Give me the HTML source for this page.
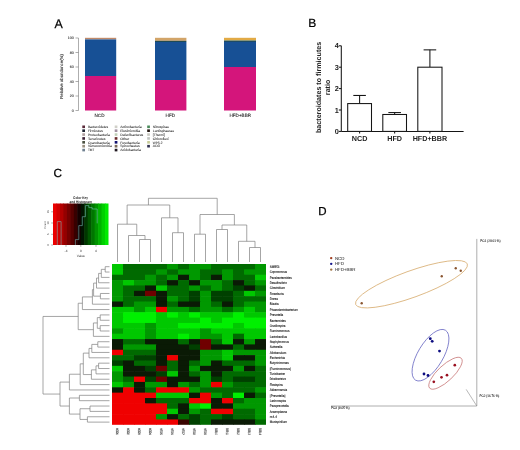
<!DOCTYPE html>
<html><head><meta charset="utf-8"><title>Figure</title>
<style>
html,body{margin:0;padding:0;background:#fff;}
body{width:520px;height:450px;overflow:hidden;font-family:"Liberation Sans", sans-serif;}
svg{display:block;will-change:transform;text-rendering:geometricPrecision;}
</style></head>
<body>
<svg width="520" height="450" viewBox="0 0 520 450" font-family='"Liberation Sans", sans-serif'>
<rect width="520" height="450" fill="#fff"/>
<text x="54.6" y="27.6" font-size="12.4" stroke="#000" stroke-width="0.25">A</text>
<line x1="78.5" y1="38.0" x2="78.5" y2="110.5" stroke="#777" stroke-width="0.6"/>
<line x1="75.5" y1="110.50" x2="78.5" y2="110.50" stroke="#777" stroke-width="0.6"/>
<text x="73.7" y="111.80" font-size="3.6" text-anchor="end" fill="#333" stroke="#333" stroke-width="0.1">0</text>
<line x1="75.5" y1="96.00" x2="78.5" y2="96.00" stroke="#777" stroke-width="0.6"/>
<text x="73.7" y="97.30" font-size="3.6" text-anchor="end" fill="#333" stroke="#333" stroke-width="0.1">20</text>
<line x1="75.5" y1="81.50" x2="78.5" y2="81.50" stroke="#777" stroke-width="0.6"/>
<text x="73.7" y="82.80" font-size="3.6" text-anchor="end" fill="#333" stroke="#333" stroke-width="0.1">40</text>
<line x1="75.5" y1="67.00" x2="78.5" y2="67.00" stroke="#777" stroke-width="0.6"/>
<text x="73.7" y="68.30" font-size="3.6" text-anchor="end" fill="#333" stroke="#333" stroke-width="0.1">60</text>
<line x1="75.5" y1="52.50" x2="78.5" y2="52.50" stroke="#777" stroke-width="0.6"/>
<text x="73.7" y="53.80" font-size="3.6" text-anchor="end" fill="#333" stroke="#333" stroke-width="0.1">80</text>
<line x1="75.5" y1="38.00" x2="78.5" y2="38.00" stroke="#777" stroke-width="0.6"/>
<text x="73.7" y="39.30" font-size="3.6" text-anchor="end" fill="#333" stroke="#333" stroke-width="0.1">100</text>
<text transform="translate(62.8,76.5) rotate(-90)" font-size="4.3" text-anchor="middle" fill="#333" stroke="#333" stroke-width="0.1">Relative abundance(%)</text>
<rect x="85" y="37.8" width="31.20" height="1.60" fill="#c08a6a"/>
<rect x="85" y="39.4" width="31.20" height="36.60" fill="#175095"/>
<rect x="85" y="76.0" width="31.20" height="34.50" fill="#d4157b"/>
<rect x="155" y="37.8" width="31.40" height="3.00" fill="#d2a468"/>
<rect x="155" y="40.8" width="31.40" height="1.20" fill="#1f4a55"/>
<rect x="155" y="42.0" width="31.40" height="38.00" fill="#175095"/>
<rect x="155" y="80.0" width="31.40" height="30.50" fill="#d4157b"/>
<rect x="224" y="37.8" width="32.00" height="2.40" fill="#e2aa45"/>
<rect x="224" y="40.2" width="32.00" height="0.80" fill="#6f8060"/>
<rect x="224" y="41.0" width="32.00" height="1.00" fill="#1e4b66"/>
<rect x="224" y="42.0" width="32.00" height="25.00" fill="#175095"/>
<rect x="224" y="67.0" width="32.00" height="43.50" fill="#d4157b"/>
<text x="99.5" y="117.4" font-size="4.6" text-anchor="middle" fill="#222" stroke="#222" stroke-width="0.08">NCD</text>
<text x="170.3" y="117.4" font-size="4.6" text-anchor="middle" fill="#222" stroke="#222" stroke-width="0.08">HFD</text>
<text x="240.3" y="117.4" font-size="4.6" text-anchor="middle" fill="#222" stroke="#222" stroke-width="0.08">HFD+BBR</text>
<rect x="82.3" y="125.50" width="2.7" height="2.6" fill="#5a2a3a"/>
<text x="87.9" y="128.00" font-size="3.3" textLength="20.2" lengthAdjust="spacingAndGlyphs" fill="#333" stroke="#333" stroke-width="0.06">Bacteroidetes</text>
<rect x="82.3" y="129.38" width="2.7" height="2.6" fill="#1c2230"/>
<text x="87.9" y="131.88" font-size="3.3" textLength="15.1" lengthAdjust="spacingAndGlyphs" fill="#333" stroke="#333" stroke-width="0.06">Firmicutes</text>
<rect x="82.3" y="133.26" width="2.7" height="2.6" fill="#b0a0a0"/>
<text x="87.9" y="135.76" font-size="3.3" textLength="22.1" lengthAdjust="spacingAndGlyphs" fill="#333" stroke="#333" stroke-width="0.06">Proteobacteria</text>
<rect x="82.3" y="137.14" width="2.7" height="2.6" fill="#3a2035"/>
<text x="87.9" y="139.64" font-size="3.3" textLength="17.5" lengthAdjust="spacingAndGlyphs" fill="#333" stroke="#333" stroke-width="0.06">Tenericutes</text>
<rect x="82.3" y="141.02" width="2.7" height="2.6" fill="#4a5040"/>
<text x="87.9" y="143.52" font-size="3.3" textLength="21.7" lengthAdjust="spacingAndGlyphs" fill="#333" stroke="#333" stroke-width="0.06">Cyanobacteria</text>
<rect x="82.3" y="144.90" width="2.7" height="2.6" fill="#9a9080"/>
<text x="87.9" y="147.40" font-size="3.3" textLength="24.0" lengthAdjust="spacingAndGlyphs" fill="#333" stroke="#333" stroke-width="0.06">Verrucomicrobia</text>
<rect x="82.3" y="148.78" width="2.7" height="2.6" fill="#708090"/>
<text x="87.9" y="151.28" font-size="3.3" textLength="6.3" lengthAdjust="spacingAndGlyphs" fill="#333" stroke="#333" stroke-width="0.06">TM7</text>
<rect x="114.7" y="125.50" width="2.7" height="2.6" fill="#d0d0c8"/>
<text x="120.3" y="128.00" font-size="3.3" textLength="21.3" lengthAdjust="spacingAndGlyphs" fill="#333" stroke="#333" stroke-width="0.06">Actinobacteria</text>
<rect x="114.7" y="129.38" width="2.7" height="2.6" fill="#a090a0"/>
<text x="120.3" y="131.88" font-size="3.3" textLength="19.8" lengthAdjust="spacingAndGlyphs" fill="#333" stroke="#333" stroke-width="0.06">Elusimicrobia</text>
<rect x="114.7" y="133.26" width="2.7" height="2.6" fill="#c0d0b8"/>
<text x="120.3" y="135.76" font-size="3.3" textLength="22.9" lengthAdjust="spacingAndGlyphs" fill="#333" stroke="#333" stroke-width="0.06">Deferribacteres</text>
<rect x="114.7" y="137.14" width="2.7" height="2.6" fill="#6a2a2a"/>
<text x="120.3" y="139.64" font-size="3.3" textLength="9.0" lengthAdjust="spacingAndGlyphs" fill="#333" stroke="#333" stroke-width="0.06">Other</text>
<rect x="114.7" y="141.02" width="2.7" height="2.6" fill="#101070"/>
<text x="120.3" y="143.52" font-size="3.3" textLength="19.4" lengthAdjust="spacingAndGlyphs" fill="#333" stroke="#333" stroke-width="0.06">Fusobacteria</text>
<rect x="114.7" y="144.90" width="2.7" height="2.6" fill="#7a6a58"/>
<text x="120.3" y="147.40" font-size="3.3" textLength="19.4" lengthAdjust="spacingAndGlyphs" fill="#333" stroke="#333" stroke-width="0.06">Spirochaetes</text>
<rect x="114.7" y="148.78" width="2.7" height="2.6" fill="#201820"/>
<text x="120.3" y="151.28" font-size="3.3" textLength="20.5" lengthAdjust="spacingAndGlyphs" fill="#333" stroke="#333" stroke-width="0.06">Acidobacteria</text>
<rect x="147.2" y="125.50" width="2.7" height="2.6" fill="#4a8a5a"/>
<text x="152.8" y="128.00" font-size="3.3" textLength="16.2" lengthAdjust="spacingAndGlyphs" fill="#333" stroke="#333" stroke-width="0.06">Nitrospirae</text>
<rect x="147.2" y="129.38" width="2.7" height="2.6" fill="#201510"/>
<text x="152.8" y="131.88" font-size="3.3" textLength="21.2" lengthAdjust="spacingAndGlyphs" fill="#333" stroke="#333" stroke-width="0.06">Lentisphaerae</text>
<rect x="147.2" y="133.26" width="2.7" height="2.6" fill="#c8c8c0"/>
<text x="152.8" y="135.76" font-size="3.3" textLength="12.0" lengthAdjust="spacingAndGlyphs" fill="#333" stroke="#333" stroke-width="0.06">[Thermi]</text>
<rect x="147.2" y="137.14" width="2.7" height="2.6" fill="#c0c4c0"/>
<text x="152.8" y="139.64" font-size="3.3" textLength="15.8" lengthAdjust="spacingAndGlyphs" fill="#333" stroke="#333" stroke-width="0.06">Chloroflexi</text>
<rect x="147.2" y="141.02" width="2.7" height="2.6" fill="#c8cc98"/>
<text x="152.8" y="143.52" font-size="3.3" textLength="9.7" lengthAdjust="spacingAndGlyphs" fill="#333" stroke="#333" stroke-width="0.06">WPS-2</text>
<rect x="147.2" y="144.90" width="2.7" height="2.6" fill="#303050"/>
<text x="152.8" y="147.40" font-size="3.3" textLength="7.0" lengthAdjust="spacingAndGlyphs" fill="#333" stroke="#333" stroke-width="0.06">AD3</text>
<text x="308.2" y="27.3" font-size="12" stroke="#000" stroke-width="0.2">B</text>
<line x1="341.3" y1="45.80" x2="341.3" y2="131.4" stroke="#151515" stroke-width="1.05"/>
<line x1="341.3" y1="131.4" x2="463.6" y2="131.4" stroke="#151515" stroke-width="1.05"/>
<line x1="338.8" y1="131.40" x2="341.3" y2="131.40" stroke="#151515" stroke-width="1.05"/>
<text x="338.7" y="134.00" font-size="7.3" text-anchor="end" font-weight="bold" fill="#222">0</text>
<line x1="338.8" y1="110.00" x2="341.3" y2="110.00" stroke="#151515" stroke-width="1.05"/>
<text x="338.7" y="112.60" font-size="7.3" text-anchor="end" font-weight="bold" fill="#222">1</text>
<line x1="338.8" y1="88.60" x2="341.3" y2="88.60" stroke="#151515" stroke-width="1.05"/>
<text x="338.7" y="91.20" font-size="7.3" text-anchor="end" font-weight="bold" fill="#222">2</text>
<line x1="338.8" y1="67.20" x2="341.3" y2="67.20" stroke="#151515" stroke-width="1.05"/>
<text x="338.7" y="69.80" font-size="7.3" text-anchor="end" font-weight="bold" fill="#222">3</text>
<line x1="338.8" y1="45.80" x2="341.3" y2="45.80" stroke="#151515" stroke-width="1.05"/>
<text x="338.7" y="48.40" font-size="7.3" text-anchor="end" font-weight="bold" fill="#222">4</text>
<line x1="359.60" y1="103.58" x2="359.60" y2="95.45" stroke="#151515" stroke-width="1.05"/>
<line x1="353.30" y1="95.45" x2="365.90" y2="95.45" stroke="#151515" stroke-width="1.05"/>
<rect x="347.7" y="103.58" width="23.80" height="27.82" fill="#fff" stroke="#151515" stroke-width="1.05"/>
<line x1="359.60" y1="131.4" x2="359.60" y2="133.6" stroke="#151515" stroke-width="1.05"/>
<text x="359.60" y="140.70" font-size="7.2" text-anchor="middle" font-weight="bold" fill="#222">NCD</text>
<line x1="394.65" y1="114.49" x2="394.65" y2="112.57" stroke="#151515" stroke-width="1.05"/>
<line x1="388.35" y1="112.57" x2="400.95" y2="112.57" stroke="#151515" stroke-width="1.05"/>
<rect x="382.8" y="114.49" width="23.70" height="16.91" fill="#fff" stroke="#151515" stroke-width="1.05"/>
<line x1="394.65" y1="131.4" x2="394.65" y2="133.6" stroke="#151515" stroke-width="1.05"/>
<text x="394.65" y="140.70" font-size="7.2" text-anchor="middle" font-weight="bold" fill="#222">HFD</text>
<line x1="429.90" y1="67.20" x2="429.90" y2="49.87" stroke="#151515" stroke-width="1.05"/>
<line x1="423.60" y1="49.87" x2="436.20" y2="49.87" stroke="#151515" stroke-width="1.05"/>
<rect x="417.8" y="67.20" width="24.20" height="64.20" fill="#fff" stroke="#151515" stroke-width="1.05"/>
<line x1="429.90" y1="131.4" x2="429.90" y2="133.6" stroke="#151515" stroke-width="1.05"/>
<text x="429.90" y="140.70" font-size="7.2" text-anchor="middle" font-weight="bold" fill="#222">HFD+BBR</text>
<text transform="translate(321.2,87.4) rotate(-90)" font-size="7.15" text-anchor="middle" font-weight="bold" fill="#222">bacteroidates to firmicutes</text>
<text transform="translate(330.2,87.4) rotate(-90)" font-size="7.15" text-anchor="middle" font-weight="bold" fill="#222">ratio</text>
<text x="53.5" y="176.9" font-size="11.8" stroke="#000" stroke-width="0.25">C</text>
<rect x="112.00" y="264.00" width="11.60" height="5.96" fill="#00c800"/>
<rect x="123.00" y="264.00" width="11.60" height="5.96" fill="#006a00"/>
<rect x="134.00" y="264.00" width="11.60" height="5.96" fill="#006a00"/>
<rect x="145.00" y="264.00" width="11.60" height="5.96" fill="#006a00"/>
<rect x="156.00" y="264.00" width="11.60" height="5.96" fill="#006a00"/>
<rect x="167.00" y="264.00" width="11.60" height="5.96" fill="#009800"/>
<rect x="178.00" y="264.00" width="11.60" height="5.96" fill="#006a00"/>
<rect x="189.00" y="264.00" width="11.60" height="5.96" fill="#009800"/>
<rect x="200.00" y="264.00" width="11.60" height="5.96" fill="#009800"/>
<rect x="211.00" y="264.00" width="11.60" height="5.96" fill="#006a00"/>
<rect x="222.00" y="264.00" width="11.60" height="5.96" fill="#006a00"/>
<rect x="233.00" y="264.00" width="11.60" height="5.96" fill="#006a00"/>
<rect x="244.00" y="264.00" width="11.60" height="5.96" fill="#006a00"/>
<rect x="255.00" y="264.00" width="11.00" height="5.96" fill="#009800"/>
<rect x="112.00" y="269.36" width="11.60" height="5.96" fill="#00c800"/>
<rect x="123.00" y="269.36" width="11.60" height="5.96" fill="#006a00"/>
<rect x="134.00" y="269.36" width="11.60" height="5.96" fill="#006a00"/>
<rect x="145.00" y="269.36" width="11.60" height="5.96" fill="#006a00"/>
<rect x="156.00" y="269.36" width="11.60" height="5.96" fill="#009800"/>
<rect x="167.00" y="269.36" width="11.60" height="5.96" fill="#006a00"/>
<rect x="178.00" y="269.36" width="11.60" height="5.96" fill="#009800"/>
<rect x="189.00" y="269.36" width="11.60" height="5.96" fill="#009800"/>
<rect x="200.00" y="269.36" width="11.60" height="5.96" fill="#006a00"/>
<rect x="211.00" y="269.36" width="11.60" height="5.96" fill="#006a00"/>
<rect x="222.00" y="269.36" width="11.60" height="5.96" fill="#009800"/>
<rect x="233.00" y="269.36" width="11.60" height="5.96" fill="#006a00"/>
<rect x="244.00" y="269.36" width="11.60" height="5.96" fill="#009800"/>
<rect x="255.00" y="269.36" width="11.00" height="5.96" fill="#009800"/>
<rect x="112.00" y="274.72" width="11.60" height="5.96" fill="#006a00"/>
<rect x="123.00" y="274.72" width="11.60" height="5.96" fill="#006a00"/>
<rect x="134.00" y="274.72" width="11.60" height="5.96" fill="#006a00"/>
<rect x="145.00" y="274.72" width="11.60" height="5.96" fill="#009800"/>
<rect x="156.00" y="274.72" width="11.60" height="5.96" fill="#006a00"/>
<rect x="167.00" y="274.72" width="11.60" height="5.96" fill="#009800"/>
<rect x="178.00" y="274.72" width="11.60" height="5.96" fill="#0a1a05"/>
<rect x="189.00" y="274.72" width="11.60" height="5.96" fill="#009800"/>
<rect x="200.00" y="274.72" width="11.60" height="5.96" fill="#006a00"/>
<rect x="211.00" y="274.72" width="11.60" height="5.96" fill="#0a1a05"/>
<rect x="222.00" y="274.72" width="11.60" height="5.96" fill="#009800"/>
<rect x="233.00" y="274.72" width="11.60" height="5.96" fill="#006a00"/>
<rect x="244.00" y="274.72" width="11.60" height="5.96" fill="#006a00"/>
<rect x="255.00" y="274.72" width="11.00" height="5.96" fill="#00c800"/>
<rect x="112.00" y="280.08" width="11.60" height="5.96" fill="#009800"/>
<rect x="123.00" y="280.08" width="11.60" height="5.96" fill="#00c800"/>
<rect x="134.00" y="280.08" width="11.60" height="5.96" fill="#009800"/>
<rect x="145.00" y="280.08" width="11.60" height="5.96" fill="#009800"/>
<rect x="156.00" y="280.08" width="11.60" height="5.96" fill="#006a00"/>
<rect x="167.00" y="280.08" width="11.60" height="5.96" fill="#0a1a05"/>
<rect x="178.00" y="280.08" width="11.60" height="5.96" fill="#006a00"/>
<rect x="189.00" y="280.08" width="11.60" height="5.96" fill="#0a1a05"/>
<rect x="200.00" y="280.08" width="11.60" height="5.96" fill="#009800"/>
<rect x="211.00" y="280.08" width="11.60" height="5.96" fill="#009800"/>
<rect x="222.00" y="280.08" width="11.60" height="5.96" fill="#006a00"/>
<rect x="233.00" y="280.08" width="11.60" height="5.96" fill="#0a1a05"/>
<rect x="244.00" y="280.08" width="11.60" height="5.96" fill="#006a00"/>
<rect x="255.00" y="280.08" width="11.00" height="5.96" fill="#009800"/>
<rect x="112.00" y="285.44" width="11.60" height="5.96" fill="#009800"/>
<rect x="123.00" y="285.44" width="11.60" height="5.96" fill="#006a00"/>
<rect x="134.00" y="285.44" width="11.60" height="5.96" fill="#006a00"/>
<rect x="145.00" y="285.44" width="11.60" height="5.96" fill="#0a1a05"/>
<rect x="156.00" y="285.44" width="11.60" height="5.96" fill="#00c800"/>
<rect x="167.00" y="285.44" width="11.60" height="5.96" fill="#006a00"/>
<rect x="178.00" y="285.44" width="11.60" height="5.96" fill="#006a00"/>
<rect x="189.00" y="285.44" width="11.60" height="5.96" fill="#009800"/>
<rect x="200.00" y="285.44" width="11.60" height="5.96" fill="#006a00"/>
<rect x="211.00" y="285.44" width="11.60" height="5.96" fill="#009800"/>
<rect x="222.00" y="285.44" width="11.60" height="5.96" fill="#006a00"/>
<rect x="233.00" y="285.44" width="11.60" height="5.96" fill="#004000"/>
<rect x="244.00" y="285.44" width="11.60" height="5.96" fill="#0a1a05"/>
<rect x="255.00" y="285.44" width="11.00" height="5.96" fill="#006a00"/>
<rect x="112.00" y="290.80" width="11.60" height="5.96" fill="#009800"/>
<rect x="123.00" y="290.80" width="11.60" height="5.96" fill="#006a00"/>
<rect x="134.00" y="290.80" width="11.60" height="5.96" fill="#0a1a05"/>
<rect x="145.00" y="290.80" width="11.60" height="5.96" fill="#700000"/>
<rect x="156.00" y="290.80" width="11.60" height="5.96" fill="#0a1a05"/>
<rect x="167.00" y="290.80" width="11.60" height="5.96" fill="#006a00"/>
<rect x="178.00" y="290.80" width="11.60" height="5.96" fill="#006a00"/>
<rect x="189.00" y="290.80" width="11.60" height="5.96" fill="#004000"/>
<rect x="200.00" y="290.80" width="11.60" height="5.96" fill="#009800"/>
<rect x="211.00" y="290.80" width="11.60" height="5.96" fill="#004000"/>
<rect x="222.00" y="290.80" width="11.60" height="5.96" fill="#004000"/>
<rect x="233.00" y="290.80" width="11.60" height="5.96" fill="#006a00"/>
<rect x="244.00" y="290.80" width="11.60" height="5.96" fill="#00c800"/>
<rect x="255.00" y="290.80" width="11.00" height="5.96" fill="#009800"/>
<rect x="112.00" y="296.16" width="11.60" height="5.96" fill="#009800"/>
<rect x="123.00" y="296.16" width="11.60" height="5.96" fill="#006a00"/>
<rect x="134.00" y="296.16" width="11.60" height="5.96" fill="#006a00"/>
<rect x="145.00" y="296.16" width="11.60" height="5.96" fill="#006a00"/>
<rect x="156.00" y="296.16" width="11.60" height="5.96" fill="#0a1a05"/>
<rect x="167.00" y="296.16" width="11.60" height="5.96" fill="#009800"/>
<rect x="178.00" y="296.16" width="11.60" height="5.96" fill="#006a00"/>
<rect x="189.00" y="296.16" width="11.60" height="5.96" fill="#004000"/>
<rect x="200.00" y="296.16" width="11.60" height="5.96" fill="#009800"/>
<rect x="211.00" y="296.16" width="11.60" height="5.96" fill="#004000"/>
<rect x="222.00" y="296.16" width="11.60" height="5.96" fill="#004000"/>
<rect x="233.00" y="296.16" width="11.60" height="5.96" fill="#006a00"/>
<rect x="244.00" y="296.16" width="11.60" height="5.96" fill="#006a00"/>
<rect x="255.00" y="296.16" width="11.00" height="5.96" fill="#006a00"/>
<rect x="112.00" y="301.52" width="11.60" height="5.96" fill="#0a1a05"/>
<rect x="123.00" y="301.52" width="11.60" height="5.96" fill="#006a00"/>
<rect x="134.00" y="301.52" width="11.60" height="5.96" fill="#009800"/>
<rect x="145.00" y="301.52" width="11.60" height="5.96" fill="#009800"/>
<rect x="156.00" y="301.52" width="11.60" height="5.96" fill="#0a1a05"/>
<rect x="167.00" y="301.52" width="11.60" height="5.96" fill="#006a00"/>
<rect x="178.00" y="301.52" width="11.60" height="5.96" fill="#0a1a05"/>
<rect x="189.00" y="301.52" width="11.60" height="5.96" fill="#0a1a05"/>
<rect x="200.00" y="301.52" width="11.60" height="5.96" fill="#009800"/>
<rect x="211.00" y="301.52" width="11.60" height="5.96" fill="#006a00"/>
<rect x="222.00" y="301.52" width="11.60" height="5.96" fill="#0a1a05"/>
<rect x="233.00" y="301.52" width="11.60" height="5.96" fill="#006a00"/>
<rect x="244.00" y="301.52" width="11.60" height="5.96" fill="#009800"/>
<rect x="255.00" y="301.52" width="11.00" height="5.96" fill="#009800"/>
<rect x="112.00" y="306.88" width="11.60" height="5.96" fill="#00c800"/>
<rect x="123.00" y="306.88" width="11.60" height="5.96" fill="#00c800"/>
<rect x="134.00" y="306.88" width="11.60" height="5.96" fill="#009800"/>
<rect x="145.00" y="306.88" width="11.60" height="5.96" fill="#00c800"/>
<rect x="156.00" y="306.88" width="11.60" height="5.96" fill="#f00000"/>
<rect x="167.00" y="306.88" width="11.60" height="5.96" fill="#009800"/>
<rect x="178.00" y="306.88" width="11.60" height="5.96" fill="#009800"/>
<rect x="189.00" y="306.88" width="11.60" height="5.96" fill="#006a00"/>
<rect x="200.00" y="306.88" width="11.60" height="5.96" fill="#009800"/>
<rect x="211.00" y="306.88" width="11.60" height="5.96" fill="#009800"/>
<rect x="222.00" y="306.88" width="11.60" height="5.96" fill="#006a00"/>
<rect x="233.00" y="306.88" width="11.60" height="5.96" fill="#009800"/>
<rect x="244.00" y="306.88" width="11.60" height="5.96" fill="#00c800"/>
<rect x="255.00" y="306.88" width="11.00" height="5.96" fill="#009800"/>
<rect x="112.00" y="312.24" width="11.60" height="5.96" fill="#00c800"/>
<rect x="123.00" y="312.24" width="11.60" height="5.96" fill="#00f000"/>
<rect x="134.00" y="312.24" width="11.60" height="5.96" fill="#00f000"/>
<rect x="145.00" y="312.24" width="11.60" height="5.96" fill="#00f000"/>
<rect x="156.00" y="312.24" width="11.60" height="5.96" fill="#00c800"/>
<rect x="167.00" y="312.24" width="11.60" height="5.96" fill="#00f000"/>
<rect x="178.00" y="312.24" width="11.60" height="5.96" fill="#00c800"/>
<rect x="189.00" y="312.24" width="11.60" height="5.96" fill="#00f000"/>
<rect x="200.00" y="312.24" width="11.60" height="5.96" fill="#00c800"/>
<rect x="211.00" y="312.24" width="11.60" height="5.96" fill="#00c800"/>
<rect x="222.00" y="312.24" width="11.60" height="5.96" fill="#00c800"/>
<rect x="233.00" y="312.24" width="11.60" height="5.96" fill="#00f000"/>
<rect x="244.00" y="312.24" width="11.60" height="5.96" fill="#00c800"/>
<rect x="255.00" y="312.24" width="11.00" height="5.96" fill="#00c800"/>
<rect x="112.00" y="317.60" width="11.60" height="5.96" fill="#00c800"/>
<rect x="123.00" y="317.60" width="11.60" height="5.96" fill="#00f000"/>
<rect x="134.00" y="317.60" width="11.60" height="5.96" fill="#00f000"/>
<rect x="145.00" y="317.60" width="11.60" height="5.96" fill="#00f000"/>
<rect x="156.00" y="317.60" width="11.60" height="5.96" fill="#00c800"/>
<rect x="167.00" y="317.60" width="11.60" height="5.96" fill="#00c800"/>
<rect x="178.00" y="317.60" width="11.60" height="5.96" fill="#00c800"/>
<rect x="189.00" y="317.60" width="11.60" height="5.96" fill="#00c800"/>
<rect x="200.00" y="317.60" width="11.60" height="5.96" fill="#00f000"/>
<rect x="211.00" y="317.60" width="11.60" height="5.96" fill="#00c800"/>
<rect x="222.00" y="317.60" width="11.60" height="5.96" fill="#00f000"/>
<rect x="233.00" y="317.60" width="11.60" height="5.96" fill="#00f000"/>
<rect x="244.00" y="317.60" width="11.60" height="5.96" fill="#00f000"/>
<rect x="255.00" y="317.60" width="11.00" height="5.96" fill="#00f000"/>
<rect x="112.00" y="322.96" width="11.60" height="5.96" fill="#00c800"/>
<rect x="123.00" y="322.96" width="11.60" height="5.96" fill="#00c800"/>
<rect x="134.00" y="322.96" width="11.60" height="5.96" fill="#00c800"/>
<rect x="145.00" y="322.96" width="11.60" height="5.96" fill="#009800"/>
<rect x="156.00" y="322.96" width="11.60" height="5.96" fill="#00c800"/>
<rect x="167.00" y="322.96" width="11.60" height="5.96" fill="#00c800"/>
<rect x="178.00" y="322.96" width="11.60" height="5.96" fill="#00f000"/>
<rect x="189.00" y="322.96" width="11.60" height="5.96" fill="#00f000"/>
<rect x="200.00" y="322.96" width="11.60" height="5.96" fill="#00f000"/>
<rect x="211.00" y="322.96" width="11.60" height="5.96" fill="#00f000"/>
<rect x="222.00" y="322.96" width="11.60" height="5.96" fill="#00f000"/>
<rect x="233.00" y="322.96" width="11.60" height="5.96" fill="#00c800"/>
<rect x="244.00" y="322.96" width="11.60" height="5.96" fill="#00f000"/>
<rect x="255.00" y="322.96" width="11.00" height="5.96" fill="#00f000"/>
<rect x="112.00" y="328.32" width="11.60" height="5.96" fill="#009800"/>
<rect x="123.00" y="328.32" width="11.60" height="5.96" fill="#00c800"/>
<rect x="134.00" y="328.32" width="11.60" height="5.96" fill="#00c800"/>
<rect x="145.00" y="328.32" width="11.60" height="5.96" fill="#009800"/>
<rect x="156.00" y="328.32" width="11.60" height="5.96" fill="#00c800"/>
<rect x="167.00" y="328.32" width="11.60" height="5.96" fill="#00c800"/>
<rect x="178.00" y="328.32" width="11.60" height="5.96" fill="#00c800"/>
<rect x="189.00" y="328.32" width="11.60" height="5.96" fill="#00c800"/>
<rect x="200.00" y="328.32" width="11.60" height="5.96" fill="#009800"/>
<rect x="211.00" y="328.32" width="11.60" height="5.96" fill="#00c800"/>
<rect x="222.00" y="328.32" width="11.60" height="5.96" fill="#00c800"/>
<rect x="233.00" y="328.32" width="11.60" height="5.96" fill="#00c800"/>
<rect x="244.00" y="328.32" width="11.60" height="5.96" fill="#00c800"/>
<rect x="255.00" y="328.32" width="11.00" height="5.96" fill="#00c800"/>
<rect x="112.00" y="333.68" width="11.60" height="5.96" fill="#00c800"/>
<rect x="123.00" y="333.68" width="11.60" height="5.96" fill="#00c800"/>
<rect x="134.00" y="333.68" width="11.60" height="5.96" fill="#00c800"/>
<rect x="145.00" y="333.68" width="11.60" height="5.96" fill="#009800"/>
<rect x="156.00" y="333.68" width="11.60" height="5.96" fill="#00c800"/>
<rect x="167.00" y="333.68" width="11.60" height="5.96" fill="#00c800"/>
<rect x="178.00" y="333.68" width="11.60" height="5.96" fill="#00f000"/>
<rect x="189.00" y="333.68" width="11.60" height="5.96" fill="#00c800"/>
<rect x="200.00" y="333.68" width="11.60" height="5.96" fill="#009800"/>
<rect x="211.00" y="333.68" width="11.60" height="5.96" fill="#009800"/>
<rect x="222.00" y="333.68" width="11.60" height="5.96" fill="#00c800"/>
<rect x="233.00" y="333.68" width="11.60" height="5.96" fill="#006a00"/>
<rect x="244.00" y="333.68" width="11.60" height="5.96" fill="#00c800"/>
<rect x="255.00" y="333.68" width="11.00" height="5.96" fill="#00c800"/>
<rect x="112.00" y="339.04" width="11.60" height="5.96" fill="#0a1a05"/>
<rect x="123.00" y="339.04" width="11.60" height="5.96" fill="#006a00"/>
<rect x="134.00" y="339.04" width="11.60" height="5.96" fill="#006a00"/>
<rect x="145.00" y="339.04" width="11.60" height="5.96" fill="#0a1a05"/>
<rect x="156.00" y="339.04" width="11.60" height="5.96" fill="#0a1a05"/>
<rect x="167.00" y="339.04" width="11.60" height="5.96" fill="#0a1a05"/>
<rect x="178.00" y="339.04" width="11.60" height="5.96" fill="#006a00"/>
<rect x="189.00" y="339.04" width="11.60" height="5.96" fill="#0a1a05"/>
<rect x="200.00" y="339.04" width="11.60" height="5.96" fill="#700000"/>
<rect x="211.00" y="339.04" width="11.60" height="5.96" fill="#006a00"/>
<rect x="222.00" y="339.04" width="11.60" height="5.96" fill="#00c800"/>
<rect x="233.00" y="339.04" width="11.60" height="5.96" fill="#0a1a05"/>
<rect x="244.00" y="339.04" width="11.60" height="5.96" fill="#009800"/>
<rect x="255.00" y="339.04" width="11.00" height="5.96" fill="#0a1a05"/>
<rect x="112.00" y="344.40" width="11.60" height="5.96" fill="#0a1a05"/>
<rect x="123.00" y="344.40" width="11.60" height="5.96" fill="#009800"/>
<rect x="134.00" y="344.40" width="11.60" height="5.96" fill="#009800"/>
<rect x="145.00" y="344.40" width="11.60" height="5.96" fill="#009800"/>
<rect x="156.00" y="344.40" width="11.60" height="5.96" fill="#0a1a05"/>
<rect x="167.00" y="344.40" width="11.60" height="5.96" fill="#0a1a05"/>
<rect x="178.00" y="344.40" width="11.60" height="5.96" fill="#0a1a05"/>
<rect x="189.00" y="344.40" width="11.60" height="5.96" fill="#004000"/>
<rect x="200.00" y="344.40" width="11.60" height="5.96" fill="#700000"/>
<rect x="211.00" y="344.40" width="11.60" height="5.96" fill="#0a1a05"/>
<rect x="222.00" y="344.40" width="11.60" height="5.96" fill="#0a1a05"/>
<rect x="233.00" y="344.40" width="11.60" height="5.96" fill="#006a00"/>
<rect x="244.00" y="344.40" width="11.60" height="5.96" fill="#0a1a05"/>
<rect x="255.00" y="344.40" width="11.00" height="5.96" fill="#0a1a05"/>
<rect x="112.00" y="349.76" width="11.60" height="5.96" fill="#f00000"/>
<rect x="123.00" y="349.76" width="11.60" height="5.96" fill="#006a00"/>
<rect x="134.00" y="349.76" width="11.60" height="5.96" fill="#006a00"/>
<rect x="145.00" y="349.76" width="11.60" height="5.96" fill="#006a00"/>
<rect x="156.00" y="349.76" width="11.60" height="5.96" fill="#0a1a05"/>
<rect x="167.00" y="349.76" width="11.60" height="5.96" fill="#0a1a05"/>
<rect x="178.00" y="349.76" width="11.60" height="5.96" fill="#0a1a05"/>
<rect x="189.00" y="349.76" width="11.60" height="5.96" fill="#0a1a05"/>
<rect x="200.00" y="349.76" width="11.60" height="5.96" fill="#009800"/>
<rect x="211.00" y="349.76" width="11.60" height="5.96" fill="#009800"/>
<rect x="222.00" y="349.76" width="11.60" height="5.96" fill="#00c800"/>
<rect x="233.00" y="349.76" width="11.60" height="5.96" fill="#009800"/>
<rect x="244.00" y="349.76" width="11.60" height="5.96" fill="#009800"/>
<rect x="255.00" y="349.76" width="11.00" height="5.96" fill="#009800"/>
<rect x="112.00" y="355.12" width="11.60" height="5.96" fill="#006a00"/>
<rect x="123.00" y="355.12" width="11.60" height="5.96" fill="#006a00"/>
<rect x="134.00" y="355.12" width="11.60" height="5.96" fill="#004000"/>
<rect x="145.00" y="355.12" width="11.60" height="5.96" fill="#004000"/>
<rect x="156.00" y="355.12" width="11.60" height="5.96" fill="#0a1a05"/>
<rect x="167.00" y="355.12" width="11.60" height="5.96" fill="#f00000"/>
<rect x="178.00" y="355.12" width="11.60" height="5.96" fill="#0a1a05"/>
<rect x="189.00" y="355.12" width="11.60" height="5.96" fill="#0a1a05"/>
<rect x="200.00" y="355.12" width="11.60" height="5.96" fill="#009800"/>
<rect x="211.00" y="355.12" width="11.60" height="5.96" fill="#009800"/>
<rect x="222.00" y="355.12" width="11.60" height="5.96" fill="#00c800"/>
<rect x="233.00" y="355.12" width="11.60" height="5.96" fill="#0a1a05"/>
<rect x="244.00" y="355.12" width="11.60" height="5.96" fill="#0a1a05"/>
<rect x="255.00" y="355.12" width="11.00" height="5.96" fill="#009800"/>
<rect x="112.00" y="360.48" width="11.60" height="5.96" fill="#004000"/>
<rect x="123.00" y="360.48" width="11.60" height="5.96" fill="#0a1a05"/>
<rect x="134.00" y="360.48" width="11.60" height="5.96" fill="#006a00"/>
<rect x="145.00" y="360.48" width="11.60" height="5.96" fill="#006a00"/>
<rect x="156.00" y="360.48" width="11.60" height="5.96" fill="#0a1a05"/>
<rect x="167.00" y="360.48" width="11.60" height="5.96" fill="#006a00"/>
<rect x="178.00" y="360.48" width="11.60" height="5.96" fill="#0a1a05"/>
<rect x="189.00" y="360.48" width="11.60" height="5.96" fill="#006a00"/>
<rect x="200.00" y="360.48" width="11.60" height="5.96" fill="#009800"/>
<rect x="211.00" y="360.48" width="11.60" height="5.96" fill="#0a1a05"/>
<rect x="222.00" y="360.48" width="11.60" height="5.96" fill="#006a00"/>
<rect x="233.00" y="360.48" width="11.60" height="5.96" fill="#006a00"/>
<rect x="244.00" y="360.48" width="11.60" height="5.96" fill="#006a00"/>
<rect x="255.00" y="360.48" width="11.00" height="5.96" fill="#009800"/>
<rect x="112.00" y="365.84" width="11.60" height="5.96" fill="#00c800"/>
<rect x="123.00" y="365.84" width="11.60" height="5.96" fill="#0a1a05"/>
<rect x="134.00" y="365.84" width="11.60" height="5.96" fill="#0a1a05"/>
<rect x="145.00" y="365.84" width="11.60" height="5.96" fill="#004000"/>
<rect x="156.00" y="365.84" width="11.60" height="5.96" fill="#700000"/>
<rect x="167.00" y="365.84" width="11.60" height="5.96" fill="#006a00"/>
<rect x="178.00" y="365.84" width="11.60" height="5.96" fill="#0a1a05"/>
<rect x="189.00" y="365.84" width="11.60" height="5.96" fill="#009800"/>
<rect x="200.00" y="365.84" width="11.60" height="5.96" fill="#0a1a05"/>
<rect x="211.00" y="365.84" width="11.60" height="5.96" fill="#0a1a05"/>
<rect x="222.00" y="365.84" width="11.60" height="5.96" fill="#0a1a05"/>
<rect x="233.00" y="365.84" width="11.60" height="5.96" fill="#009800"/>
<rect x="244.00" y="365.84" width="11.60" height="5.96" fill="#0a1a05"/>
<rect x="255.00" y="365.84" width="11.00" height="5.96" fill="#006a00"/>
<rect x="112.00" y="371.20" width="11.60" height="5.96" fill="#009800"/>
<rect x="123.00" y="371.20" width="11.60" height="5.96" fill="#0a1a05"/>
<rect x="134.00" y="371.20" width="11.60" height="5.96" fill="#0a1a05"/>
<rect x="145.00" y="371.20" width="11.60" height="5.96" fill="#0a1a05"/>
<rect x="156.00" y="371.20" width="11.60" height="5.96" fill="#004000"/>
<rect x="167.00" y="371.20" width="11.60" height="5.96" fill="#00c800"/>
<rect x="178.00" y="371.20" width="11.60" height="5.96" fill="#0a1a05"/>
<rect x="189.00" y="371.20" width="11.60" height="5.96" fill="#006a00"/>
<rect x="200.00" y="371.20" width="11.60" height="5.96" fill="#009800"/>
<rect x="211.00" y="371.20" width="11.60" height="5.96" fill="#0a1a05"/>
<rect x="222.00" y="371.20" width="11.60" height="5.96" fill="#006a00"/>
<rect x="233.00" y="371.20" width="11.60" height="5.96" fill="#006a00"/>
<rect x="244.00" y="371.20" width="11.60" height="5.96" fill="#006a00"/>
<rect x="255.00" y="371.20" width="11.00" height="5.96" fill="#006a00"/>
<rect x="112.00" y="376.56" width="11.60" height="5.96" fill="#009800"/>
<rect x="123.00" y="376.56" width="11.60" height="5.96" fill="#006a00"/>
<rect x="134.00" y="376.56" width="11.60" height="5.96" fill="#f00000"/>
<rect x="145.00" y="376.56" width="11.60" height="5.96" fill="#004000"/>
<rect x="156.00" y="376.56" width="11.60" height="5.96" fill="#700000"/>
<rect x="167.00" y="376.56" width="11.60" height="5.96" fill="#0a1a05"/>
<rect x="178.00" y="376.56" width="11.60" height="5.96" fill="#0a1a05"/>
<rect x="189.00" y="376.56" width="11.60" height="5.96" fill="#0a1a05"/>
<rect x="200.00" y="376.56" width="11.60" height="5.96" fill="#009800"/>
<rect x="211.00" y="376.56" width="11.60" height="5.96" fill="#004000"/>
<rect x="222.00" y="376.56" width="11.60" height="5.96" fill="#006a00"/>
<rect x="233.00" y="376.56" width="11.60" height="5.96" fill="#004000"/>
<rect x="244.00" y="376.56" width="11.60" height="5.96" fill="#004000"/>
<rect x="255.00" y="376.56" width="11.00" height="5.96" fill="#006a00"/>
<rect x="112.00" y="381.92" width="11.60" height="5.96" fill="#00c800"/>
<rect x="123.00" y="381.92" width="11.60" height="5.96" fill="#009800"/>
<rect x="134.00" y="381.92" width="11.60" height="5.96" fill="#0a1a05"/>
<rect x="145.00" y="381.92" width="11.60" height="5.96" fill="#009800"/>
<rect x="156.00" y="381.92" width="11.60" height="5.96" fill="#009800"/>
<rect x="167.00" y="381.92" width="11.60" height="5.96" fill="#0a1a05"/>
<rect x="178.00" y="381.92" width="11.60" height="5.96" fill="#009800"/>
<rect x="189.00" y="381.92" width="11.60" height="5.96" fill="#006a00"/>
<rect x="200.00" y="381.92" width="11.60" height="5.96" fill="#009800"/>
<rect x="211.00" y="381.92" width="11.60" height="5.96" fill="#f00000"/>
<rect x="222.00" y="381.92" width="11.60" height="5.96" fill="#009800"/>
<rect x="233.00" y="381.92" width="11.60" height="5.96" fill="#006a00"/>
<rect x="244.00" y="381.92" width="11.60" height="5.96" fill="#006a00"/>
<rect x="255.00" y="381.92" width="11.00" height="5.96" fill="#006a00"/>
<rect x="112.00" y="387.28" width="11.60" height="5.96" fill="#0a1a05"/>
<rect x="123.00" y="387.28" width="11.60" height="5.96" fill="#f00000"/>
<rect x="134.00" y="387.28" width="11.60" height="5.96" fill="#0a1a05"/>
<rect x="145.00" y="387.28" width="11.60" height="5.96" fill="#006a00"/>
<rect x="156.00" y="387.28" width="11.60" height="5.96" fill="#f00000"/>
<rect x="167.00" y="387.28" width="11.60" height="5.96" fill="#f00000"/>
<rect x="178.00" y="387.28" width="11.60" height="5.96" fill="#f00000"/>
<rect x="189.00" y="387.28" width="11.60" height="5.96" fill="#009800"/>
<rect x="200.00" y="387.28" width="11.60" height="5.96" fill="#006a00"/>
<rect x="211.00" y="387.28" width="11.60" height="5.96" fill="#006a00"/>
<rect x="222.00" y="387.28" width="11.60" height="5.96" fill="#006a00"/>
<rect x="233.00" y="387.28" width="11.60" height="5.96" fill="#006a00"/>
<rect x="244.00" y="387.28" width="11.60" height="5.96" fill="#006a00"/>
<rect x="255.00" y="387.28" width="11.00" height="5.96" fill="#009800"/>
<rect x="112.00" y="392.64" width="11.60" height="5.96" fill="#f00000"/>
<rect x="123.00" y="392.64" width="11.60" height="5.96" fill="#f00000"/>
<rect x="134.00" y="392.64" width="11.60" height="5.96" fill="#f00000"/>
<rect x="145.00" y="392.64" width="11.60" height="5.96" fill="#f00000"/>
<rect x="156.00" y="392.64" width="11.60" height="5.96" fill="#00c800"/>
<rect x="167.00" y="392.64" width="11.60" height="5.96" fill="#00c800"/>
<rect x="178.00" y="392.64" width="11.60" height="5.96" fill="#00c800"/>
<rect x="189.00" y="392.64" width="11.60" height="5.96" fill="#0a1a05"/>
<rect x="200.00" y="392.64" width="11.60" height="5.96" fill="#f00000"/>
<rect x="211.00" y="392.64" width="11.60" height="5.96" fill="#009800"/>
<rect x="222.00" y="392.64" width="11.60" height="5.96" fill="#006a00"/>
<rect x="233.00" y="392.64" width="11.60" height="5.96" fill="#00f000"/>
<rect x="244.00" y="392.64" width="11.60" height="5.96" fill="#0a1a05"/>
<rect x="255.00" y="392.64" width="11.00" height="5.96" fill="#006a00"/>
<rect x="112.00" y="398.00" width="11.60" height="5.96" fill="#f00000"/>
<rect x="123.00" y="398.00" width="11.60" height="5.96" fill="#f00000"/>
<rect x="134.00" y="398.00" width="11.60" height="5.96" fill="#f00000"/>
<rect x="145.00" y="398.00" width="11.60" height="5.96" fill="#0a1a05"/>
<rect x="156.00" y="398.00" width="11.60" height="5.96" fill="#006a00"/>
<rect x="167.00" y="398.00" width="11.60" height="5.96" fill="#006a00"/>
<rect x="178.00" y="398.00" width="11.60" height="5.96" fill="#006a00"/>
<rect x="189.00" y="398.00" width="11.60" height="5.96" fill="#f00000"/>
<rect x="200.00" y="398.00" width="11.60" height="5.96" fill="#f00000"/>
<rect x="211.00" y="398.00" width="11.60" height="5.96" fill="#0a1a05"/>
<rect x="222.00" y="398.00" width="11.60" height="5.96" fill="#f00000"/>
<rect x="233.00" y="398.00" width="11.60" height="5.96" fill="#006a00"/>
<rect x="244.00" y="398.00" width="11.60" height="5.96" fill="#009800"/>
<rect x="255.00" y="398.00" width="11.00" height="5.96" fill="#009800"/>
<rect x="112.00" y="403.36" width="11.60" height="5.96" fill="#f00000"/>
<rect x="123.00" y="403.36" width="11.60" height="5.96" fill="#f00000"/>
<rect x="134.00" y="403.36" width="11.60" height="5.96" fill="#f00000"/>
<rect x="145.00" y="403.36" width="11.60" height="5.96" fill="#f00000"/>
<rect x="156.00" y="403.36" width="11.60" height="5.96" fill="#f00000"/>
<rect x="167.00" y="403.36" width="11.60" height="5.96" fill="#006a00"/>
<rect x="178.00" y="403.36" width="11.60" height="5.96" fill="#0a1a05"/>
<rect x="189.00" y="403.36" width="11.60" height="5.96" fill="#00c800"/>
<rect x="200.00" y="403.36" width="11.60" height="5.96" fill="#00f000"/>
<rect x="211.00" y="403.36" width="11.60" height="5.96" fill="#0a1a05"/>
<rect x="222.00" y="403.36" width="11.60" height="5.96" fill="#0a1a05"/>
<rect x="233.00" y="403.36" width="11.60" height="5.96" fill="#009800"/>
<rect x="244.00" y="403.36" width="11.60" height="5.96" fill="#009800"/>
<rect x="255.00" y="403.36" width="11.00" height="5.96" fill="#009800"/>
<rect x="112.00" y="408.72" width="11.60" height="5.96" fill="#f00000"/>
<rect x="123.00" y="408.72" width="11.60" height="5.96" fill="#f00000"/>
<rect x="134.00" y="408.72" width="11.60" height="5.96" fill="#f00000"/>
<rect x="145.00" y="408.72" width="11.60" height="5.96" fill="#f00000"/>
<rect x="156.00" y="408.72" width="11.60" height="5.96" fill="#f00000"/>
<rect x="167.00" y="408.72" width="11.60" height="5.96" fill="#00c800"/>
<rect x="178.00" y="408.72" width="11.60" height="5.96" fill="#0a1a05"/>
<rect x="189.00" y="408.72" width="11.60" height="5.96" fill="#009800"/>
<rect x="200.00" y="408.72" width="11.60" height="5.96" fill="#006a00"/>
<rect x="211.00" y="408.72" width="11.60" height="5.96" fill="#f00000"/>
<rect x="222.00" y="408.72" width="11.60" height="5.96" fill="#f00000"/>
<rect x="233.00" y="408.72" width="11.60" height="5.96" fill="#006a00"/>
<rect x="244.00" y="408.72" width="11.60" height="5.96" fill="#006a00"/>
<rect x="255.00" y="408.72" width="11.00" height="5.96" fill="#009800"/>
<rect x="112.00" y="414.08" width="11.60" height="5.96" fill="#f00000"/>
<rect x="123.00" y="414.08" width="11.60" height="5.96" fill="#f00000"/>
<rect x="134.00" y="414.08" width="11.60" height="5.96" fill="#f00000"/>
<rect x="145.00" y="414.08" width="11.60" height="5.96" fill="#f00000"/>
<rect x="156.00" y="414.08" width="11.60" height="5.96" fill="#009800"/>
<rect x="167.00" y="414.08" width="11.60" height="5.96" fill="#0a1a05"/>
<rect x="178.00" y="414.08" width="11.60" height="5.96" fill="#006a00"/>
<rect x="189.00" y="414.08" width="11.60" height="5.96" fill="#004000"/>
<rect x="200.00" y="414.08" width="11.60" height="5.96" fill="#006a00"/>
<rect x="211.00" y="414.08" width="11.60" height="5.96" fill="#006a00"/>
<rect x="222.00" y="414.08" width="11.60" height="5.96" fill="#004000"/>
<rect x="233.00" y="414.08" width="11.60" height="5.96" fill="#006a00"/>
<rect x="244.00" y="414.08" width="11.60" height="5.96" fill="#006a00"/>
<rect x="255.00" y="414.08" width="11.00" height="5.96" fill="#009800"/>
<rect x="112.00" y="419.44" width="11.60" height="5.36" fill="#f00000"/>
<rect x="123.00" y="419.44" width="11.60" height="5.36" fill="#f00000"/>
<rect x="134.00" y="419.44" width="11.60" height="5.36" fill="#f00000"/>
<rect x="145.00" y="419.44" width="11.60" height="5.36" fill="#f00000"/>
<rect x="156.00" y="419.44" width="11.60" height="5.36" fill="#f00000"/>
<rect x="167.00" y="419.44" width="11.60" height="5.36" fill="#f00000"/>
<rect x="178.00" y="419.44" width="11.60" height="5.36" fill="#3a0500"/>
<rect x="189.00" y="419.44" width="11.60" height="5.36" fill="#004000"/>
<rect x="200.00" y="419.44" width="11.60" height="5.36" fill="#006a00"/>
<rect x="211.00" y="419.44" width="11.60" height="5.36" fill="#0a1a05"/>
<rect x="222.00" y="419.44" width="11.60" height="5.36" fill="#0a1a05"/>
<rect x="233.00" y="419.44" width="11.60" height="5.36" fill="#0a1a05"/>
<rect x="244.00" y="419.44" width="11.60" height="5.36" fill="#0a1a05"/>
<rect x="255.00" y="419.44" width="11.00" height="5.36" fill="#006a00"/>
<text x="269.8" y="267.93" font-size="3.5" textLength="9.7" lengthAdjust="spacingAndGlyphs" fill="#2a2a2a" stroke="#2a2a2a" stroke-width="0.12">SMB53</text>
<text x="269.8" y="273.29" font-size="3.5" textLength="17.3" lengthAdjust="spacingAndGlyphs" fill="#2a2a2a" stroke="#2a2a2a" stroke-width="0.12">Coprococcus</text>
<text x="269.8" y="278.65" font-size="3.5" textLength="21.9" lengthAdjust="spacingAndGlyphs" fill="#2a2a2a" stroke="#2a2a2a" stroke-width="0.12">Parabacteroides</text>
<text x="269.8" y="284.01" font-size="3.5" textLength="17.1" lengthAdjust="spacingAndGlyphs" fill="#2a2a2a" stroke="#2a2a2a" stroke-width="0.12">Desulfovibrio</text>
<text x="269.8" y="289.37" font-size="3.5" textLength="15.2" lengthAdjust="spacingAndGlyphs" fill="#2a2a2a" stroke="#2a2a2a" stroke-width="0.12">Clostridium</text>
<text x="269.8" y="294.73" font-size="3.5" textLength="13.9" lengthAdjust="spacingAndGlyphs" fill="#2a2a2a" stroke="#2a2a2a" stroke-width="0.12">Roseburia</text>
<text x="269.8" y="300.09" font-size="3.5" textLength="8.0" lengthAdjust="spacingAndGlyphs" fill="#2a2a2a" stroke="#2a2a2a" stroke-width="0.12">Dorea</text>
<text x="269.8" y="305.45" font-size="3.5" textLength="8.9" lengthAdjust="spacingAndGlyphs" fill="#2a2a2a" stroke="#2a2a2a" stroke-width="0.12">Blautia</text>
<text x="269.8" y="310.81" font-size="3.5" textLength="28" lengthAdjust="spacingAndGlyphs" fill="#2a2a2a" stroke="#2a2a2a" stroke-width="0.12">Phascolarctobacterium</text>
<text x="269.8" y="316.17" font-size="3.5" textLength="13.5" lengthAdjust="spacingAndGlyphs" fill="#2a2a2a" stroke="#2a2a2a" stroke-width="0.12">Prevotella</text>
<text x="269.8" y="321.53" font-size="3.5" textLength="16" lengthAdjust="spacingAndGlyphs" fill="#2a2a2a" stroke="#2a2a2a" stroke-width="0.12">Bacteroides</text>
<text x="269.8" y="326.89" font-size="3.5" textLength="15.7" lengthAdjust="spacingAndGlyphs" fill="#2a2a2a" stroke="#2a2a2a" stroke-width="0.12">Oscillospira</text>
<text x="269.8" y="332.25" font-size="3.5" textLength="19.6" lengthAdjust="spacingAndGlyphs" fill="#2a2a2a" stroke="#2a2a2a" stroke-width="0.12">Ruminococcus</text>
<text x="269.8" y="337.61" font-size="3.5" textLength="17.3" lengthAdjust="spacingAndGlyphs" fill="#2a2a2a" stroke="#2a2a2a" stroke-width="0.12">Lactobacillus</text>
<text x="269.8" y="342.97" font-size="3.5" textLength="19" lengthAdjust="spacingAndGlyphs" fill="#2a2a2a" stroke="#2a2a2a" stroke-width="0.12">Staphylococcus</text>
<text x="269.8" y="348.33" font-size="3.5" textLength="12.7" lengthAdjust="spacingAndGlyphs" fill="#2a2a2a" stroke="#2a2a2a" stroke-width="0.12">Sutterella</text>
<text x="269.8" y="353.69" font-size="3.5" textLength="16.5" lengthAdjust="spacingAndGlyphs" fill="#2a2a2a" stroke="#2a2a2a" stroke-width="0.12">Allobaculum</text>
<text x="269.8" y="359.05" font-size="3.5" textLength="15.2" lengthAdjust="spacingAndGlyphs" fill="#2a2a2a" stroke="#2a2a2a" stroke-width="0.12">Escherichia</text>
<text x="269.8" y="364.41" font-size="3.5" textLength="19" lengthAdjust="spacingAndGlyphs" fill="#2a2a2a" stroke="#2a2a2a" stroke-width="0.12">Butyricimonas</text>
<text x="269.8" y="369.77" font-size="3.5" textLength="21" lengthAdjust="spacingAndGlyphs" fill="#2a2a2a" stroke="#2a2a2a" stroke-width="0.12">[Ruminococcus]</text>
<text x="269.8" y="375.13" font-size="3.5" textLength="15.2" lengthAdjust="spacingAndGlyphs" fill="#2a2a2a" stroke="#2a2a2a" stroke-width="0.12">Turicibacter</text>
<text x="269.8" y="380.49" font-size="3.5" textLength="16.2" lengthAdjust="spacingAndGlyphs" fill="#2a2a2a" stroke="#2a2a2a" stroke-width="0.12">Dehalobacterium</text>
<text x="269.8" y="385.85" font-size="3.5" textLength="12.8" lengthAdjust="spacingAndGlyphs" fill="#2a2a2a" stroke="#2a2a2a" stroke-width="0.12">Flexispira</text>
<text x="269.8" y="391.21" font-size="3.5" textLength="17.3" lengthAdjust="spacingAndGlyphs" fill="#2a2a2a" stroke="#2a2a2a" stroke-width="0.12">Akkermansia</text>
<text x="269.8" y="396.57" font-size="3.5" textLength="15.5" lengthAdjust="spacingAndGlyphs" fill="#2a2a2a" stroke="#2a2a2a" stroke-width="0.12">[Prevotella]</text>
<text x="269.8" y="401.93" font-size="3.5" textLength="16.2" lengthAdjust="spacingAndGlyphs" fill="#2a2a2a" stroke="#2a2a2a" stroke-width="0.12">Lachnospira</text>
<text x="269.8" y="407.29" font-size="3.5" textLength="18.9" lengthAdjust="spacingAndGlyphs" fill="#2a2a2a" stroke="#2a2a2a" stroke-width="0.12">Paraprevotella</text>
<text x="269.8" y="412.65" font-size="3.5" textLength="17.3" lengthAdjust="spacingAndGlyphs" fill="#2a2a2a" stroke="#2a2a2a" stroke-width="0.12">Anaeroplasma</text>
<text x="269.8" y="418.01" font-size="3.5" textLength="7.1" lengthAdjust="spacingAndGlyphs" fill="#2a2a2a" stroke="#2a2a2a" stroke-width="0.12">rc4-4</text>
<text x="269.8" y="423.37" font-size="3.5" textLength="17.3" lengthAdjust="spacingAndGlyphs" fill="#2a2a2a" stroke="#2a2a2a" stroke-width="0.12">Mucispirillum</text>
<text transform="translate(115.50,428) rotate(90)" font-size="3.4" textLength="6.6" lengthAdjust="spacingAndGlyphs" fill="#333" stroke="#333" stroke-width="0.15">NCD1</text>
<text transform="translate(126.50,428) rotate(90)" font-size="3.4" textLength="6.6" lengthAdjust="spacingAndGlyphs" fill="#333" stroke="#333" stroke-width="0.15">NCD2</text>
<text transform="translate(137.50,428) rotate(90)" font-size="3.4" textLength="6.6" lengthAdjust="spacingAndGlyphs" fill="#333" stroke="#333" stroke-width="0.15">NCD3</text>
<text transform="translate(148.50,428) rotate(90)" font-size="3.4" textLength="6.6" lengthAdjust="spacingAndGlyphs" fill="#333" stroke="#333" stroke-width="0.15">NCD4</text>
<text transform="translate(159.50,428) rotate(90)" font-size="3.4" textLength="6.6" lengthAdjust="spacingAndGlyphs" fill="#333" stroke="#333" stroke-width="0.15">HFD5</text>
<text transform="translate(170.50,428) rotate(90)" font-size="3.4" textLength="6.6" lengthAdjust="spacingAndGlyphs" fill="#333" stroke="#333" stroke-width="0.15">HFD6</text>
<text transform="translate(181.50,428) rotate(90)" font-size="3.4" textLength="6.6" lengthAdjust="spacingAndGlyphs" fill="#333" stroke="#333" stroke-width="0.15">HFD7</text>
<text transform="translate(192.50,428) rotate(90)" font-size="3.4" textLength="6.6" lengthAdjust="spacingAndGlyphs" fill="#333" stroke="#333" stroke-width="0.15">HFD8</text>
<text transform="translate(203.50,428) rotate(90)" font-size="3.4" textLength="6.6" lengthAdjust="spacingAndGlyphs" fill="#333" stroke="#333" stroke-width="0.15">HFD9</text>
<text transform="translate(214.50,428) rotate(90)" font-size="3.4" textLength="6.6" lengthAdjust="spacingAndGlyphs" fill="#333" stroke="#333" stroke-width="0.15">BBR10</text>
<text transform="translate(225.50,428) rotate(90)" font-size="3.4" textLength="6.6" lengthAdjust="spacingAndGlyphs" fill="#333" stroke="#333" stroke-width="0.15">BBR11</text>
<text transform="translate(236.50,428) rotate(90)" font-size="3.4" textLength="6.6" lengthAdjust="spacingAndGlyphs" fill="#333" stroke="#333" stroke-width="0.15">BBR12</text>
<text transform="translate(247.50,428) rotate(90)" font-size="3.4" textLength="6.6" lengthAdjust="spacingAndGlyphs" fill="#333" stroke="#333" stroke-width="0.15">BBR13</text>
<text transform="translate(258.50,428) rotate(90)" font-size="3.4" textLength="6.6" lengthAdjust="spacingAndGlyphs" fill="#333" stroke="#333" stroke-width="0.15">BBR14</text>
<path d="M139.50 262.00L139.50 239.50M150.50 262.00L150.50 239.50M139.50 239.50L150.50 239.50M128.50 262.00L128.50 235.50M145.00 239.50L145.00 235.50M128.50 235.50L145.00 235.50M117.50 262.00L117.50 224.20M136.75 235.50L136.75 224.20M117.50 224.20L136.75 224.20M172.50 262.00L172.50 232.70M183.50 262.00L183.50 232.70M172.50 232.70L183.50 232.70M161.50 262.00L161.50 217.80M178.00 232.70L178.00 217.80M161.50 217.80L178.00 217.80M127.12 224.20L127.12 205.00M169.75 217.80L169.75 205.00M127.12 205.00L169.75 205.00M194.50 262.00L194.50 234.20M205.50 262.00L205.50 234.20M194.50 234.20L205.50 234.20M216.50 262.00L216.50 229.50M227.50 262.00L227.50 229.50M216.50 229.50L227.50 229.50M249.50 262.00L249.50 247.50M260.50 262.00L260.50 247.50M249.50 247.50L260.50 247.50M238.50 262.00L238.50 241.30M255.00 247.50L255.00 241.30M238.50 241.30L255.00 241.30M222.00 229.50L222.00 225.00M246.75 241.30L246.75 225.00M222.00 225.00L246.75 225.00M200.00 234.20L200.00 214.50M234.38 225.00L234.38 214.50M200.00 214.50L234.38 214.50M148.44 205.00L148.44 198.30M217.19 214.50L217.19 198.30M148.44 198.30L217.19 198.30" stroke="#808080" stroke-width="0.7" fill="none"/>
<path d="M109.50 266.68L105.20 266.68M109.50 272.04L105.20 272.04M105.20 266.68L105.20 272.04M105.20 269.36L101.30 269.36M109.50 277.40L101.30 277.40M101.30 269.36L101.30 277.40M101.30 273.38L98.60 273.38M109.50 282.76L98.60 282.76M98.60 273.38L98.60 282.76M98.60 278.07L96.50 278.07M109.50 288.12L96.50 288.12M96.50 278.07L96.50 288.12M109.50 293.48L100.40 293.48M109.50 298.84L100.40 298.84M100.40 293.48L100.40 298.84M96.50 283.10L93.60 283.10M100.40 296.16L93.60 296.16M93.60 283.10L93.60 296.16M93.60 289.63L92.40 289.63M109.50 304.20L92.40 304.20M92.40 289.63L92.40 304.20M92.40 296.91L82.40 296.91M109.50 309.56L82.40 309.56M82.40 296.91L82.40 309.56M109.50 314.92L100.20 314.92M109.50 320.28L100.20 320.28M100.20 314.92L100.20 320.28M109.50 325.64L100.20 325.64M109.50 331.00L100.20 331.00M100.20 325.64L100.20 331.00M100.20 317.60L97.30 317.60M100.20 328.32L97.30 328.32M97.30 317.60L97.30 328.32M97.30 322.96L93.40 322.96M109.50 336.36L93.40 336.36M93.40 322.96L93.40 336.36M82.40 303.24L78.20 303.24M93.40 329.66L78.20 329.66M78.20 303.24L78.20 329.66M109.50 341.72L97.80 341.72M109.50 347.08L97.80 347.08M97.80 341.72L97.80 347.08M97.80 344.40L91.80 344.40M109.50 352.44L91.80 352.44M91.80 344.40L91.80 352.44M91.80 348.42L89.00 348.42M109.50 357.80L89.00 357.80M89.00 348.42L89.00 357.80M109.50 363.16L98.60 363.16M109.50 368.52L98.60 368.52M98.60 363.16L98.60 368.52M98.60 365.84L96.00 365.84M109.50 373.88L96.00 373.88M96.00 365.84L96.00 373.88M96.00 369.86L91.40 369.86M109.50 379.24L91.40 379.24M91.40 369.86L91.40 379.24M89.00 353.11L83.30 353.11M91.40 374.55L83.30 374.55M83.30 353.11L83.30 374.55M83.30 363.83L80.20 363.83M109.50 384.60L80.20 384.60M80.20 363.83L80.20 384.60M80.20 374.22L69.40 374.22M109.50 389.96L69.40 389.96M69.40 374.22L69.40 389.96M109.50 395.32L79.40 395.32M109.50 400.68L79.40 400.68M79.40 395.32L79.40 400.68M109.50 406.04L90.00 406.04M109.50 411.40L90.00 411.40M90.00 406.04L90.00 411.40M109.50 416.76L87.40 416.76M109.50 422.12L87.40 422.12M87.40 416.76L87.40 422.12M90.00 408.72L80.00 408.72M87.40 419.44L80.00 419.44M80.00 408.72L80.00 419.44M79.40 398.00L69.40 398.00M80.00 414.08L69.40 414.08M69.40 398.00L69.40 414.08M69.40 382.09L60.00 382.09M69.40 406.04L60.00 406.04M60.00 382.09L60.00 406.04M78.20 316.45L43.00 316.45M60.00 394.06L43.00 394.06M43.00 316.45L43.00 394.06" stroke="#808080" stroke-width="0.7" fill="none"/>
<defs><linearGradient id="ck" x1="0" x2="1" y1="0" y2="0"><stop offset="0" stop-color="#ff0000"/><stop offset="0.12" stop-color="#f00000"/><stop offset="0.5" stop-color="#000000"/><stop offset="0.88" stop-color="#00f000"/><stop offset="1" stop-color="#00ff00"/></linearGradient></defs>
<rect x="53.00" y="203.5" width="4.07" height="41.5" fill="rgb(235,0,0)"/>
<rect x="56.47" y="203.5" width="4.07" height="41.5" fill="rgb(207,0,0)"/>
<rect x="59.94" y="203.5" width="4.07" height="41.5" fill="rgb(178,0,0)"/>
<rect x="63.41" y="203.5" width="4.07" height="41.5" fill="rgb(148,0,0)"/>
<rect x="66.88" y="203.5" width="4.07" height="41.5" fill="rgb(118,0,0)"/>
<rect x="70.34" y="203.5" width="4.07" height="41.5" fill="rgb(87,0,0)"/>
<rect x="73.81" y="203.5" width="4.07" height="41.5" fill="rgb(55,0,0)"/>
<rect x="77.28" y="203.5" width="4.07" height="41.5" fill="rgb(20,0,0)"/>
<rect x="80.75" y="203.5" width="4.07" height="41.5" fill="rgb(0,20,0)"/>
<rect x="84.22" y="203.5" width="4.07" height="41.5" fill="rgb(0,55,0)"/>
<rect x="87.69" y="203.5" width="4.07" height="41.5" fill="rgb(0,87,0)"/>
<rect x="91.16" y="203.5" width="4.07" height="41.5" fill="rgb(0,118,0)"/>
<rect x="94.62" y="203.5" width="4.07" height="41.5" fill="rgb(0,148,0)"/>
<rect x="98.09" y="203.5" width="4.07" height="41.5" fill="rgb(0,178,0)"/>
<rect x="101.56" y="203.5" width="4.07" height="41.5" fill="rgb(0,207,0)"/>
<rect x="105.03" y="203.5" width="3.47" height="41.5" fill="rgb(0,235,0)"/>
<path d="M57.3 245 L57.3 221.6 L61.1 221.6 L61.1 245 M75.4 245 L75.4 239.6 L78.8 239.6 L78.8 225.6 L82.3 225.6 L82.3 216.7 L85.4 216.7 L85.4 205.6 L88.8 205.6 L88.8 207.6 L92.2 207.6 L92.2 209 L97.2 209 L97.2 223.4" stroke="#7cc4c4" stroke-width="0.55" fill="none"/>
<text x="80.6" y="198.8" font-size="3.8" text-anchor="middle" textLength="15" lengthAdjust="spacingAndGlyphs" font-weight="bold" fill="#222">Color Key</text>
<text x="80.6" y="203.2" font-size="3.5" text-anchor="middle" textLength="22.3" lengthAdjust="spacingAndGlyphs" font-weight="bold" fill="#222">and Histogram</text>
<line x1="51.2" y1="211.8" x2="53" y2="211.8" stroke="#333" stroke-width="0.4"/>
<text transform="translate(49.4,211.8) rotate(-90)" font-size="2.8" text-anchor="middle" fill="#444">15</text>
<line x1="51.2" y1="223.0" x2="53" y2="223.0" stroke="#333" stroke-width="0.4"/>
<text transform="translate(49.4,223.0) rotate(-90)" font-size="2.8" text-anchor="middle" fill="#444">10</text>
<line x1="51.2" y1="234.3" x2="53" y2="234.3" stroke="#333" stroke-width="0.4"/>
<text transform="translate(49.4,234.3) rotate(-90)" font-size="2.8" text-anchor="middle" fill="#444">5</text>
<line x1="51.2" y1="245.0" x2="53" y2="245.0" stroke="#333" stroke-width="0.4"/>
<text transform="translate(49.4,245.0) rotate(-90)" font-size="2.8" text-anchor="middle" fill="#444">0</text>
<text transform="translate(45.6,225.2) rotate(-90)" font-size="2.7" text-anchor="middle" fill="#444">Count</text>
<line x1="66.0" y1="245" x2="66.0" y2="246.8" stroke="#333" stroke-width="0.4"/>
<text x="66.0" y="251.8" font-size="3.2" text-anchor="middle" fill="#333">-4</text>
<line x1="80.8" y1="245" x2="80.8" y2="246.8" stroke="#333" stroke-width="0.4"/>
<text x="80.8" y="251.8" font-size="3.2" text-anchor="middle" fill="#333">0</text>
<line x1="96.0" y1="245" x2="96.0" y2="246.8" stroke="#333" stroke-width="0.4"/>
<text x="96.0" y="251.8" font-size="3.2" text-anchor="middle" fill="#333">4</text>
<text x="80.8" y="256.8" font-size="3.2" text-anchor="middle" fill="#333">Value</text>
<text x="318.2" y="215.0" font-size="11.5" stroke="#000" stroke-width="0.25">D</text>
<circle cx="331.2" cy="258.10" r="1.2" fill="#a03c1e"/>
<text x="334.9" y="259.65" font-size="4.4" fill="#444" stroke="#444" stroke-width="0.08">NCD</text>
<circle cx="331.2" cy="263.85" r="1.2" fill="#16168c"/>
<text x="334.9" y="265.40" font-size="4.4" fill="#444" stroke="#444" stroke-width="0.08">HFD</text>
<circle cx="331.2" cy="269.60" r="1.2" fill="#a07444"/>
<text x="334.9" y="271.15" font-size="4.4" fill="#444" stroke="#444" stroke-width="0.08">HFD+BBR</text>
<line x1="476.8" y1="238.9" x2="476.8" y2="406" stroke="#999" stroke-width="0.8"/>
<line x1="331" y1="406" x2="476.8" y2="406" stroke="#999" stroke-width="0.8"/>
<line x1="466.2" y1="389.4" x2="476.8" y2="406" stroke="#888" stroke-width="0.6"/>
<text x="480.3" y="241.9" font-size="3.5" textLength="20.2" lengthAdjust="spacingAndGlyphs" fill="#222" stroke="#222" stroke-width="0.08">PC1 (29.61 %)</text>
<text x="479.4" y="396.9" font-size="3.5" textLength="20" lengthAdjust="spacingAndGlyphs" fill="#222" stroke="#222" stroke-width="0.08">PC2 (16.76 %)</text>
<text x="331" y="409.2" font-size="3.5" textLength="18.6" lengthAdjust="spacingAndGlyphs" fill="#222" stroke="#222" stroke-width="0.08">PC3 (8.05 %)</text>
<ellipse cx="411.5" cy="284.2" rx="59.4" ry="13.2" transform="rotate(-19.9 411.5 284.2)" fill="none" stroke="#dcb680" stroke-width="0.85"/>
<ellipse cx="430.5" cy="355.2" rx="29.1" ry="12.6" transform="rotate(-59.1 430.5 355.2)" fill="none" stroke="#6464c0" stroke-width="0.72"/>
<ellipse cx="445.5" cy="373.25" rx="21.74" ry="7.78" transform="rotate(-43.3 445.5 373.25)" fill="none" stroke="#c47070" stroke-width="0.72"/>
<circle cx="361.7" cy="303.2" r="1.2" fill="#8a5530"/>
<circle cx="441.75" cy="276.25" r="1.2" fill="#8a5530"/>
<circle cx="455.75" cy="268.25" r="1.2" fill="#8a5530"/>
<circle cx="460.75" cy="270.75" r="1.2" fill="#8a5530"/>
<circle cx="430.3" cy="338.7" r="1.4" fill="#0c0c80"/>
<circle cx="432.2" cy="341.3" r="1.4" fill="#0c0c80"/>
<circle cx="439.5" cy="351.1" r="1.4" fill="#0c0c80"/>
<circle cx="424.0" cy="374.0" r="1.4" fill="#0c0c80"/>
<circle cx="428.0" cy="375.5" r="1.4" fill="#0c0c80"/>
<circle cx="454.8" cy="365.2" r="1.35" fill="#9a1020"/>
<circle cx="447.0" cy="375.2" r="1.35" fill="#9a1020"/>
<circle cx="441.5" cy="377.3" r="1.35" fill="#9a1020"/>
<circle cx="433.8" cy="381.8" r="1.35" fill="#9a1020"/>
</svg>
</body></html>
